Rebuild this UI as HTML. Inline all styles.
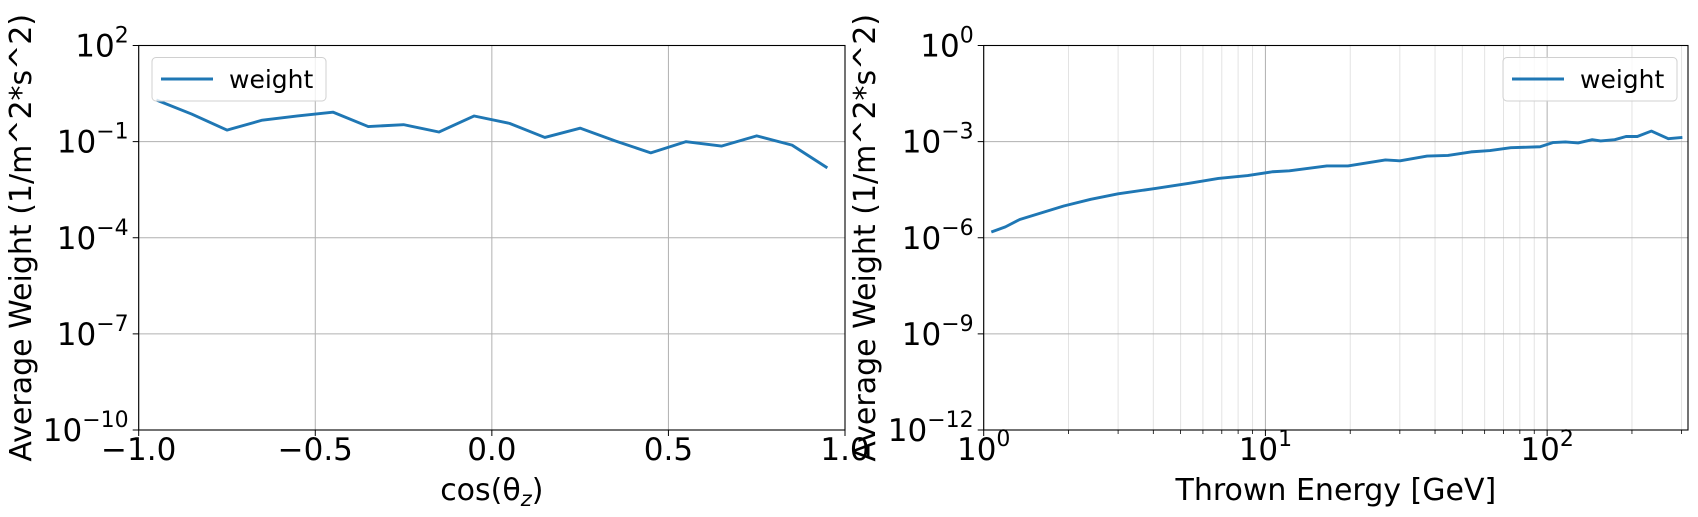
<!DOCTYPE html>
<html><head><meta charset="utf-8"><style>
body{margin:0;background:#fff;}
svg{display:block;font-family:"DejaVu Sans","Liberation Sans",sans-serif;}
</style></head><body>
<svg id="fig" width="1698" height="517" viewBox="0 0 1698 517" xmlns="http://www.w3.org/2000/svg"></svg>
<script>
// Left chart data
const cosCenters = [-0.95,-0.85,-0.75,-0.65,-0.55,-0.45,-0.35,-0.25,-0.15,-0.05,0.05,0.15,0.25,0.35,0.45,0.55,0.65,0.75,0.85,0.95];
const cosLogWeight = [0.30,-0.14,-0.64,-0.33,-0.20,-0.08,-0.53,-0.47,-0.70,-0.20,-0.43,-0.87,-0.58,-0.98,-1.35,-1.00,-1.14,-0.82,-1.11,-1.82];
const leftXTicks = [-1.0,-0.5,0.0,0.5,1.0];
const leftXTickLabels = ["\u22121.0","\u22120.5","0.0","0.5","1.0"];
const leftYTicks = [-10,-7,-4,-1,2];
// Right chart data
const energyLog = [0.027,0.077,0.128,0.284,0.380,0.477,0.610,0.729,0.833,0.937,1.026,1.085,1.218,1.293,1.426,1.478,1.574,1.648,1.730,1.797,1.871,1.975,2.02,2.065,2.11,2.16,2.19,2.24,2.28,2.32,2.37,2.43,2.48];
const energyLogWeight = [-5.82,-5.66,-5.43,-5.01,-4.80,-4.63,-4.46,-4.30,-4.15,-4.06,-3.94,-3.91,-3.76,-3.76,-3.57,-3.60,-3.45,-3.43,-3.32,-3.28,-3.19,-3.16,-3.03,-3.01,-3.04,-2.94,-2.98,-2.94,-2.84,-2.84,-2.67,-2.91,-2.87];
const rightXTicks = [0,1,2];
const rightYTicks = [-12,-9,-6,-3,0];

const NS="http://www.w3.org/2000/svg";
const svg=document.getElementById('fig');
function mk(tag,attrs,parent){const e=document.createElementNS(NS,tag);for(const k in attrs)e.setAttribute(k,attrs[k]);(parent||svg).appendChild(e);return e;}

function powLabel(g,x,y,exp,anchor){
  const t=mk('text',{x:x,y:y,'font-size':31,'text-anchor':anchor,fill:'#000'},g);
  
  
  const a=document.createElementNS(NS,'tspan');a.textContent='10';t.appendChild(a);
  const b=document.createElementNS(NS,'tspan');b.setAttribute('dy','-14');b.setAttribute('font-size','22');
  b.textContent=(exp<0?'\u2212':'')+Math.abs(exp);t.appendChild(b);
  return t;
}

function panel(opt){
  const g=mk('g',{});
  
  
  const L=opt.L,R=opt.R,T=45.5,B=430;
  const ymin=opt.ymin,ymax=opt.ymax;
  const sy=v=>B-(v-ymin)/(ymax-ymin)*(B-T);
  const sx=opt.sx;
  if(opt.minor){
    for(let d=0;d<=2;d++)for(let m=2;m<=9;m++){
      const lv=d+Math.log10(m);const x=sx(lv);
      if(x>R)continue;
      const l=mk('line',{x1:x,x2:x,y1:T,y2:B,stroke:'#e3e3e3','stroke-width':1},g);
      
      
      mk('line',{x1:x,x2:x,y1:B,y2:B+4,stroke:'#000','stroke-width':0.8},g);
    }
  }
  opt.xt.forEach((v,i)=>{
    const x=sx(v);
    const l=mk('line',{x1:x,x2:x,y1:T,y2:B,stroke:'#b0b0b0','stroke-width':1},g);
    
    
    mk('line',{x1:x,x2:x,y1:B,y2:B+6,stroke:'#000','stroke-width':1},g);
    if(opt.xlog){powLabel(g,x,460,v,'middle');}
    else{const t=mk('text',{x:x,y:460,'font-size':31,'text-anchor':'middle'},g);t.textContent=opt.xl[i];
      
      }
  });
  opt.yt.forEach(v=>{
    const y=sy(v);
    const l=mk('line',{x1:L,x2:R,y1:y,y2:y,stroke:'#b0b0b0','stroke-width':1},g);
    
    
    mk('line',{x1:L-6,x2:L,y1:y,y2:y,stroke:'#000','stroke-width':1},g);
    powLabel(g,L-10,y+11,v,'end');
  });
  const pts=opt.xs.map((v,i)=>sx(v).toFixed(2)+','+sy(opt.ys[i]).toFixed(2)).join(' ');
  const pl=mk('polyline',{points:pts,fill:'none',stroke:'#1f77b4','stroke-width':2.9,'stroke-linejoin':'round'},g);
  
  
  const fr=mk('rect',{x:L,y:T,width:R-L,height:B-T,fill:'none',stroke:'#000','stroke-width':1.1},g);
  
  
  const lg=mk('g',{},g);
  
  
  const lx=opt.legX;
  mk('rect',{x:lx,y:57.5,width:174,height:43.5,rx:4,fill:'#fff','fill-opacity':0.8,stroke:'#d0d0d0','stroke-width':1},lg);
  mk('line',{x1:lx+9,x2:lx+61,y1:79,y2:79,stroke:'#1f77b4','stroke-width':2.9},lg);
  const lt=mk('text',{x:lx+77,y:88,'font-size':25},lg);lt.textContent='weight';
  
  
  const cy=(T+B)/2;
  const yl=mk('text',{x:opt.ylx,y:cy,'font-size':30,'text-anchor':'middle',transform:`rotate(-90 ${opt.ylx} ${cy})`},g);
  yl.textContent='Average Weight (1/m^2*s^2)';
  
  
  const xl=mk('text',{x:(L+R)/2,y:500,'font-size':30,'text-anchor':'middle'},g);
  
  
  if(opt.xtitleSub){
    const a=document.createElementNS(NS,'tspan');a.textContent='cos(\u03B8';xl.appendChild(a);
    const b=document.createElementNS(NS,'tspan');b.setAttribute('font-size','21');b.setAttribute('dy','6');b.setAttribute('font-style','italic');b.textContent='z';xl.appendChild(b);
    const c=document.createElementNS(NS,'tspan');c.setAttribute('dy','-6');c.textContent=')';xl.appendChild(c);
  } else xl.textContent=opt.xtitle;
}

const LL=138.7,LR=845;
panel({name:'left-chart',L:LL,R:LR,ymin:-10,ymax:2,sx:v=>LL+(v+1)/2*(LR-LL),xt:leftXTicks,xl:leftXTickLabels,yt:leftYTicks,
  xs:cosCenters,ys:cosLogWeight,legX:152,ylx:31,xtitleSub:true});
const RL=983.7,RR=1688,XMAX=2.5;
panel({name:'right-chart',L:RL,R:RR,ymin:-12,ymax:0,sx:v=>RL+v/XMAX*(RR-RL),xt:rightXTicks,xlog:true,yt:rightYTicks,
  xs:energyLog,ys:energyLogWeight,legX:1503,ylx:875,minor:true,xtitle:'Thrown Energy [GeV]'});
</script>
</body></html>
